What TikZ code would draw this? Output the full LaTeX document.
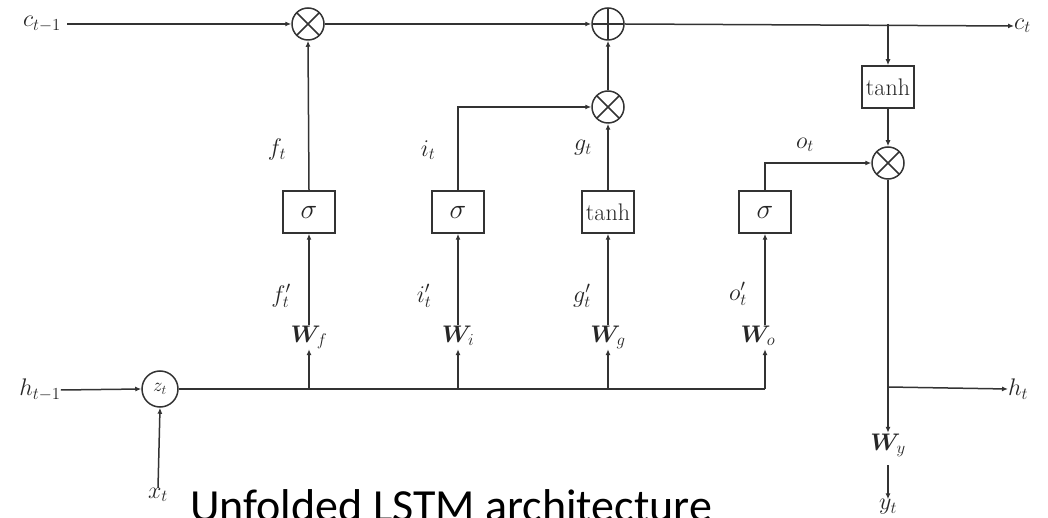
\RequirePackage{fix-cm}
\documentclass[tikz,border=0pt]{standalone}
\usepackage{amsmath}
\usepackage{bm}
\usepackage{fontspec}
\newfontfamily\calib{Carlito}
\usetikzlibrary{arrows.meta,calc}
\begin{document}
\begin{tikzpicture}[x=1pt,y=-1pt,
  line/.style={draw=black!80,line width=1.5pt},
  arr/.style={line,-{Latex[length=6pt,width=5pt]}},
  gate/.style={draw=black!80,line width=1.5pt,minimum width=52pt,minimum height=42pt,inner sep=0pt,text=black!85,font=\fontsize{24}{26}\selectfont},
  op/.style={circle,draw=black!80,line width=1.5pt,minimum size=32pt,inner sep=0pt},
  mult/.style={op,path picture={\draw[black!80,line width=1.5pt]
      (path picture bounding box.south west)--(path picture bounding box.north east)
      (path picture bounding box.north west)--(path picture bounding box.south east);}},
  plusop/.style={op,path picture={\draw[black!80,line width=1.5pt]
      (path picture bounding box.north)--(path picture bounding box.south)
      (path picture bounding box.west)--(path picture bounding box.east);}},
  lbl/.style={inner sep=0pt,text=black!85,font=\fontsize{24}{26}\selectfont},
  wl/.style={inner sep=1pt,text=black!85,text height=16pt,text depth=6pt,font=\fontsize{24}{26}\selectfont},
]
\useasboundingbox (0,0) rectangle (1048,518);
% top row
\node[lbl] (cprev) at (42,24) {$c_{t-1}$};
\node[mult] (mF) at (308,24) {};
\node[plusop] (pC) at (608,24) {};
\coordinate (jC) at (888,24);
\node[lbl,anchor=west] (ct) at (1014,26) {$c_t$};
% output column
\node[gate] (tC) at (888,87) {tanh};
\node[mult] (mO) at (888,163) {};
\coordinate (jH) at (888,387);
\node[lbl,anchor=west] (ht) at (1008,389) {$h_t$};
\node[wl] (Wy) at (888,445) {$\bm{W}_{y}$};
\node[lbl] (yt) at (888,507) {$y_t$};
% gates
\node[gate] (sF) at (309,212) {\fontsize{28}{30}\selectfont$\sigma$};
\node[gate] (sI) at (458,212) {\fontsize{28}{30}\selectfont$\sigma$};
\node[gate] (tG) at (608,212) {tanh};
\node[gate] (sO) at (765,212) {\fontsize{28}{30}\selectfont$\sigma$};
\node[mult] (mI) at (608,107) {};
% labels
\node[lbl] (lf) at (277,150) {$f_t$};
\node[lbl] (li) at (428,150) {$i_t$};
\node[lbl] (lg) at (583,148) {$g_t$};
\node[lbl] (lo) at (805,145) {$o_t$};
\node[lbl] (lf2) at (281,296) {$f'_t$};
\node[lbl] (li2) at (424,296) {$i'_t$};
\node[lbl] (lg2) at (582,296) {$g'_t$};
\node[lbl] (lo2) at (738,294) {$o'_t$};
\node[wl] (Wf) at (309,337) {$\bm{W}_{f}$};
\node[wl] (Wi) at (458,337) {$\bm{W}_{i}$};
\node[wl] (Wg) at (608,337) {$\bm{W}_{g}$};
\node[wl] (Wo) at (758,337) {$\bm{W}_{o}$};
% input
\node[lbl] (hprev) at (40,390) {$h_{t-1}$};
\node[op,minimum size=36pt,text=black!85,font=\fontsize{19}{21}\selectfont] (zt) at (160,389) {$z_t$};
\node[lbl] (xt) at (158,495) {$x_t$};
\coordinate (bF) at (309,389);
\coordinate (bI) at (458,389);
\coordinate (bG) at (608,389);
\coordinate (bO) at (765,389);
% caption
\node[anchor=base west,inner sep=0pt,font=\calib\fontsize{46}{50}\selectfont] (cap) at (190,521) {Unfolded LSTM architecture};
% connectors
\draw[arr,shorten <=6pt] (cprev.east) -- (mF.west);
\draw[arr] (mF.east) -- (pC.west);
\draw[arr] (pC.east) -- (ct.west);
\draw[arr] (jC) -- (tC.north);
\draw[arr] (tC.south) -- (mO.north);
\draw[line] (mO.south) -- (jH);
\draw[arr] (jH) -- (Wy.north);
\draw[arr] (jH) -- (ht.west);
\draw[arr,shorten <=8pt] (Wy.south) -- (yt.north);
\draw[arr] (sF.north) -- (mF.south);
\draw[arr] (sI.north) |- (mI.west);
\draw[arr] (tG.north) -- (mI.south);
\draw[arr] (mI.north) -- (pC.south);
\draw[arr] (sO.north) |- (mO.west);
\draw[arr] (Wf.north) -- (sF.south);
\draw[arr] (Wi.north) -- (sI.south);
\draw[arr] (Wg.north) -- (tG.south);
\draw[arr] (sO.south |- Wo.north) -- (sO.south);
\draw[arr] (hprev.east) -- (zt.west);
\draw[arr] (xt.north) -- (zt.south);
\draw[line] (zt.east) -- (bO);
\draw[arr] (bO) -- (bO |- Wo.south);
\draw[arr] (bF) -- (Wf.south);
\draw[arr] (bI) -- (Wi.south);
\draw[arr] (bG) -- (Wg.south);
\end{tikzpicture}
\end{document}
